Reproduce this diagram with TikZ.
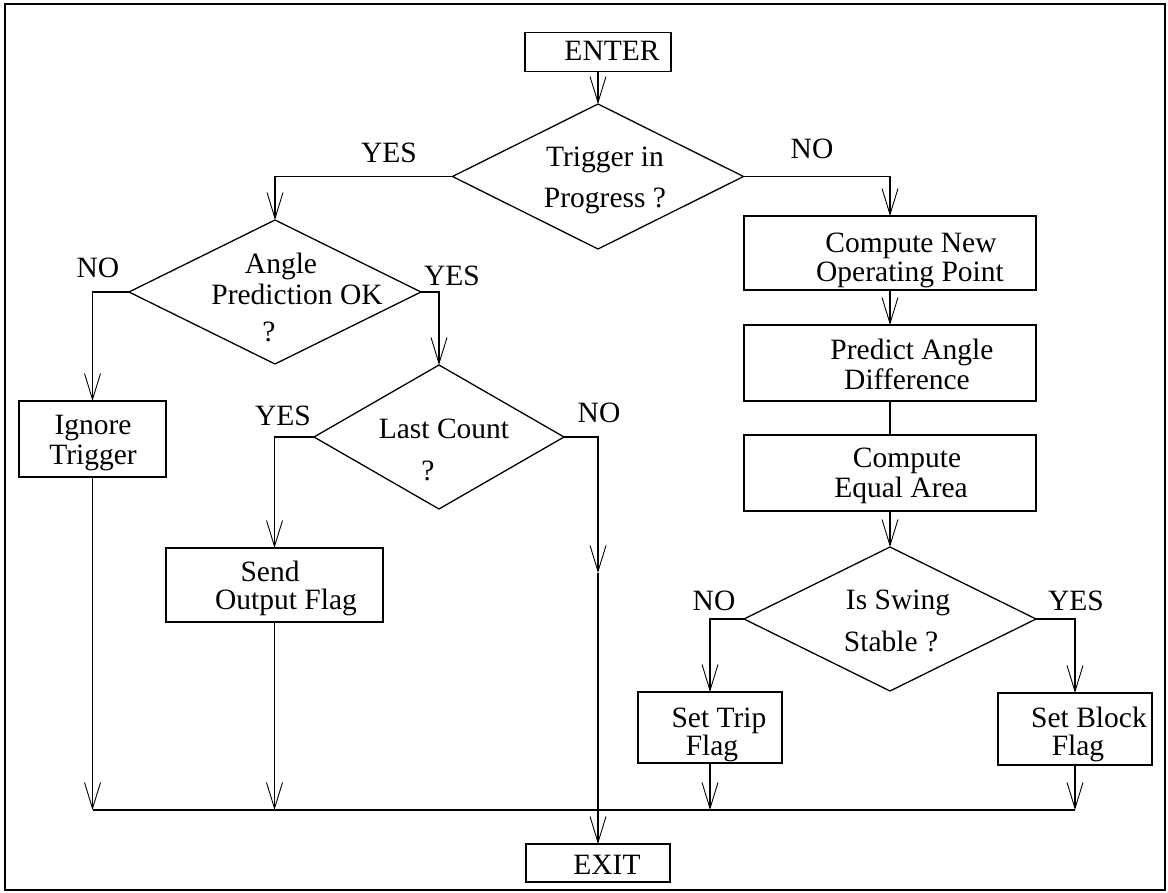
\documentclass[tikz,border=0pt]{standalone}
\usepackage{fontspec}
\setmainfont{Liberation Serif}
\usetikzlibrary{shapes.geometric,arrows.meta}

\begin{document}
\begin{tikzpicture}[x=1pt,y=-1pt,
  every node/.style={inner sep=0pt, outer sep=0pt},
  box/.style={draw, line width=1.3pt, rectangle},
  decision/.style={draw, line width=1.3pt, diamond, minimum width=292pt, minimum height=144pt},
  txt/.style={anchor=base, text height=20pt, text depth=5pt, font=\fontsize{29.5}{30}\selectfont},
  conn/.style={line width=1.1pt, -{Straight Barb[length=26pt,width=16pt,line width=0.9pt]}},
  link/.style={line width=1.1pt}]

\useasboundingbox (0,0) rectangle (1168,893);
% outer frame
\draw[line width=2pt] (4.5,4.5) rectangle (1164.5,889.5);

% ---- shapes ----
\node[box, minimum width=146pt, minimum height=39pt] (enter) at (598,52) {};
\node[decision, minimum width=291pt, minimum height=145pt] (trig) at (598,176.5) {};
\node[decision] (angle) at (275,292) {};
\node[box, minimum width=147pt, minimum height=76pt] (ign) at (92.5,439) {};
\node[decision, minimum width=250pt] (lc) at (439,437) {};
\node[box, minimum width=217pt, minimum height=74pt] (send) at (274.5,585) {};
\node[box, minimum width=144pt, minimum height=38pt] (exit) at (598,863) {};
\node[box, minimum width=292pt, minimum height=74pt] (cnp) at (890,253) {};
\node[box, minimum width=292pt, minimum height=76pt] (pad) at (890,363) {};
\node[box, minimum width=292pt, minimum height=76pt] (cea) at (890,473) {};
\node[decision] (sw) at (890,619) {};
\node[box, minimum width=144pt, minimum height=71pt] (trip) at (710,727.5) {};
\node[box, minimum width=154pt, minimum height=72pt] (blk) at (1075,729) {};

% ---- texts ----
\node[txt] (enter-t) at (612,61) {ENTER};
\node[txt] (trig-t1) at (605,167) {Trigger in};
\node[txt] (trig-t2) at (605,208) {Progress ?};
\node[txt] (angle-t1) at (281,274) {Angle};
\node[txt] (angle-t2) at (297,305) {Prediction OK};
\node[txt] (angle-t3) at (269,342) {?};
\node[txt] (ign-t1) at (93,434) {Ignore};
\node[txt] (ign-t2) at (93,464) {Trigger};
\node[txt] (lc-t1) at (444,438) {Last Count};
\node[txt] (lc-t2) at (428,480) {?};
\node[txt] (send-t1) at (270,581) {Send};
\node[txt] (send-t2) at (286,609) {Output Flag};
\node[txt] (exit-t) at (607,874) {EXIT};
\node[txt] (cnp-t1) at (911,253) {Compute New};
\node[txt] (cnp-t2) at (910,282) {Operating Point};
\node[txt] (pad-t1) at (912,360) {Predict Angle};
\node[txt] (pad-t2) at (907,390) {Difference};
\node[txt] (cea-t1) at (907,467) {Compute};
\node[txt] (cea-t2) at (901,497) {Equal Area};
\node[txt] (sw-t1) at (898,609) {Is Swing};
\node[txt] (sw-t2) at (891,651) {Stable ?};
\node[txt] (trip-t1) at (719,727) {Set Trip};
\node[txt] (trip-t2) at (712,755) {Flag};
\node[txt] (blk-t1) at (1089,727) {Set Block};
\node[txt] (blk-t2) at (1078,755) {Flag};

% ---- branch labels ----
\node[txt] (trig-yes) at (389,163) {YES};
\node[txt] (trig-no) at (812,159) {NO};
\node[txt] (angle-no) at (98,278) {NO};
\node[txt] (angle-yes) at (452,286) {YES};
\node[txt] (lc-yes) at (283,425) {YES};
\node[txt] (lc-no) at (599,422) {NO};
\node[txt] (sw-no) at (714,610) {NO};
\node[txt] (sw-yes) at (1076,610) {YES};

% ---- junction points ----
\coordinate (lcno) at (598,573);
\coordinate (jI) at (92.5,810);
\coordinate (jS) at (274.5,810);
\coordinate (jT) at (710,810);
\coordinate (jB) at (1075,810);

% ---- connectors ----
\draw[conn] (enter.south) -- (trig.north);
\draw[conn] (trig.west) -| (angle.north);
\draw[conn] (trig.east) -| (cnp.north);
\draw[conn] (angle.west) -| (ign.north);
\draw[conn] (angle.east) -| (lc.north);
\draw[conn] (lc.west) -| (send.north);
\draw[conn] (lc.east) -| (lcno);
\draw[conn] (lcno) -- (exit.north);
\draw[conn] (cnp.south) -- (pad.north);
\draw[link] (pad.south) -- (cea.north);
\draw[conn] (cea.south) -- (sw.north);
\draw[conn] (sw.west) -| (trip.north);
\draw[conn] (sw.east) -| (blk.north);
\draw[conn] (ign.south) -- (jI);
\draw[conn] (send.south) -- (jS);
\draw[conn] (trip.south) -- (jT);
\draw[conn] (blk.south) -- (jB);
\draw[link] (jI) -- (jB);
\end{tikzpicture}
\end{document}
